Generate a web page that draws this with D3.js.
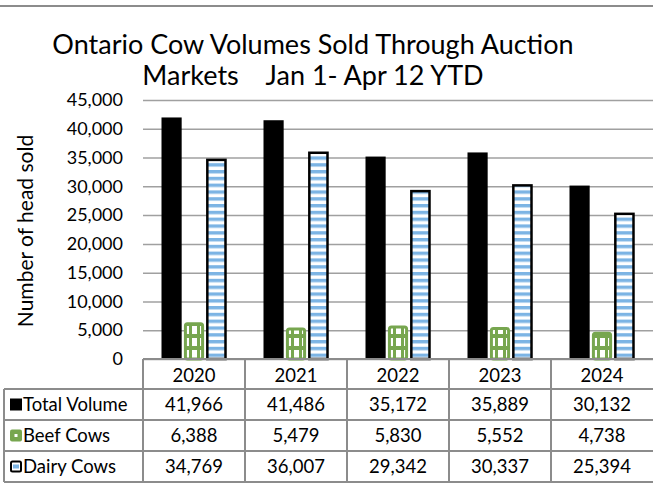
<!DOCTYPE html>
<html>
<head>
<meta charset="utf-8">
<script src="https://cdn.jsdelivr.net/npm/d3@7"></script>
<style>
  body { margin: 0; background: #fff; }
  text { font-family: Lato, "Open Sans", sans-serif; fill: #000; }
</style>
</head>
<body>
<div id="chart"></div>
<script>
// data
var years = ["2020", "2021", "2022", "2023", "2024"];
var totalVolume = [41966, 41486, 35172, 35889, 30132];
var beefCows = [6388, 5479, 5830, 5552, 4738];
var dairyCows = [34769, 36007, 29342, 30337, 25394];
var seriesNames = ["Total Volume", "Beef Cows", "Dairy Cows"];
var yTicks = [0, 5000, 10000, 15000, 20000, 25000, 30000, 35000, 40000, 45000];

var W = 653, H = 503;
var plotLeft = 143, plotRight = 653, plotTop = 100, plotBottom = 359;
var rowH = 31, tableTop = 389;
var gridColor = "#a0a0a0", tableColor = "#8c8c8c";
var green = "#77a64f", blue = "#7cb4e4";

var svg = d3.select("#chart").append("svg")
  .attr("width", W)
  .attr("height", H);

var defs = svg.append("defs");
// beef pattern: green with white blocks
var pb = defs.append("pattern").attr("id", "beefPat")
  .attr("patternUnits", "userSpaceOnUse")
  .attr("width", 8).attr("height", 12);
pb.append("rect").attr("width", 8).attr("height", 12).attr("fill", green);
pb.append("rect").attr("x", 1).attr("y", 2).attr("width", 5).attr("height", 8).attr("fill", "#fff");

// dairy pattern: blue horizontal stripes
var pd = defs.append("pattern").attr("id", "dairyPat")
  .attr("patternUnits", "userSpaceOnUse")
  .attr("width", 8).attr("height", 6.8);
pd.append("rect").attr("width", 8).attr("height", 6.8).attr("fill", "#fff");
pd.append("rect").attr("y", 0).attr("width", 8).attr("height", 3.4).attr("fill", blue);

// chart frame top line
svg.append("line")
  .attr("x1", 0).attr("x2", W).attr("y1", 6).attr("y2", 6)
  .attr("stroke", "#8c8c8c").attr("stroke-width", 2);

// title
svg.append("text")
  .attr("x", 313).attr("y", 54)
  .attr("text-anchor", "middle")
  .style("font-size", "27px")
  .text("Ontario Cow Volumes Sold Through Auction");
svg.append("text")
  .attr("x", 313).attr("y", 85)
  .attr("text-anchor", "middle")
  .style("font-size", "27px")
  .attr("xml:space", "preserve")
  .text("Markets    Jan 1- Apr 12 YTD");

var x = d3.scaleBand().domain(years).range([plotLeft, plotRight]);
var inner = d3.scaleBand().domain(seriesNames)
  .range([18.5, x.bandwidth() - 18.5])
  .paddingInner(0.1);
var y = d3.scaleLinear().domain([0, 45000]).range([plotBottom, plotTop]);

// y axis with gridlines
var yAxis = svg.append("g")
  .attr("transform", "translate(" + plotLeft + ",0)")
  .call(d3.axisLeft(y).tickValues(yTicks).tickSize(-(plotRight - plotLeft)).tickPadding(20).tickFormat(d3.format(",")));
yAxis.select(".domain").remove();
yAxis.selectAll(".tick line").attr("stroke", gridColor).attr("stroke-width", 1.5);
yAxis.selectAll(".tick text").style("font-size", "18px").style("font-family", "Lato, sans-serif").attr("fill", "#000");

// y axis title
svg.append("text")
  .attr("transform", "translate(33," + 231 + ") rotate(-90)")
  .attr("text-anchor", "middle")
  .style("font-size", "21px")
  .text("Number of head sold");

var rows = years.map(function (yr, i) {
  return { year: yr, total: totalVolume[i], beef: beefCows[i], dairy: dairyCows[i] };
});

var groups = svg.selectAll(".grp").data(rows).enter().append("g")
  .attr("transform", function (d) { return "translate(" + x(d.year) + ",0)"; });

groups.append("rect")
  .attr("x", inner("Total Volume"))
  .attr("width", inner.bandwidth())
  .attr("y", function (d) { return y(d.total); })
  .attr("height", function (d) { return y(0) - y(d.total); })
  .attr("fill", "#000");

groups.append("rect")
  .attr("x", inner("Beef Cows") + 1.5)
  .attr("width", inner.bandwidth() - 3)
  .attr("y", function (d) { return y(d.beef) + 1.5; })
  .attr("height", function (d) { return y(0) - y(d.beef) - 1.5; })
  .attr("rx", 2)
  .attr("fill", "url(#beefPat)")
  .attr("stroke", green).attr("stroke-width", 3);

groups.append("rect")
  .attr("x", inner("Dairy Cows") + 1)
  .attr("width", inner.bandwidth() - 2)
  .attr("y", function (d) { return y(d.dairy) + 1; })
  .attr("height", function (d) { return y(0) - y(d.dairy) - 1; })
  .attr("fill", "url(#dairyPat)")
  .attr("stroke", "#000").attr("stroke-width", 2.5);

// category labels
svg.selectAll(".cat").data(years).enter().append("text")
  .attr("x", function (d) { return x(d) + x.bandwidth() / 2; })
  .attr("y", 382)
  .attr("text-anchor", "middle")
  .style("font-size", "18.5px")
  .text(function (d) { return d; });

// data table
var tableRows = [totalVolume, beefCows, dairyCows];
var tbl = svg.append("g");
[0, 1, 2, 3].forEach(function (r) {
  tbl.append("line")
    .attr("x1", 4).attr("x2", plotRight)
    .attr("y1", tableTop + r * rowH).attr("y2", tableTop + r * rowH)
    .attr("stroke", tableColor).attr("stroke-width", 2);
});
tbl.append("line")
  .attr("x1", plotLeft).attr("x2", plotRight).attr("y1", plotBottom).attr("y2", plotBottom)
  .attr("stroke", tableColor).attr("stroke-width", 2);
tbl.append("line")
  .attr("x1", 4).attr("x2", 4).attr("y1", tableTop).attr("y2", tableTop + 3 * rowH)
  .attr("stroke", tableColor).attr("stroke-width", 2);
years.forEach(function (yr) {
  tbl.append("line")
    .attr("x1", x(yr)).attr("x2", x(yr))
    .attr("y1", plotBottom).attr("y2", tableTop + 3 * rowH)
    .attr("stroke", tableColor).attr("stroke-width", 2);
});

tableRows.forEach(function (vals, r) {
  var cy = tableTop + r * rowH + rowH / 2;
  tbl.append("text")
    .attr("x", 23).attr("y", cy + 6.5)
    .style("font-size", "18.5px")
    .text(seriesNames[r]);
  vals.forEach(function (v, i) {
    tbl.append("text")
      .attr("x", x(years[i]) + x.bandwidth() / 2)
      .attr("y", cy + 6.5)
      .attr("text-anchor", "middle")
      .style("font-size", "18.5px")
      .text(d3.format(",")(v));
  });
});

// legend keys in the table
var ky = function (r) { return tableTop + r * rowH + rowH / 2 - 6; };
tbl.append("rect").attr("x", 10).attr("y", ky(0)).attr("width", 12).attr("height", 12).attr("fill", "#000");
tbl.append("rect").attr("x", 10).attr("y", ky(1)).attr("width", 12).attr("height", 12).attr("rx", 2).attr("fill", green);
tbl.append("rect").attr("x", 14.5).attr("y", ky(1) + 4.5).attr("width", 3).attr("height", 3).attr("fill", "#fff");
tbl.append("rect").attr("x", 11).attr("y", ky(2) + 1).attr("width", 10).attr("height", 10).attr("rx", 1.5)
  .attr("fill", "#fff").attr("stroke", "#000").attr("stroke-width", 2);
tbl.append("rect").attr("x", 13).attr("y", ky(2) + 4).attr("width", 6).attr("height", 4).attr("fill", blue);
</script>
</body>
</html>
